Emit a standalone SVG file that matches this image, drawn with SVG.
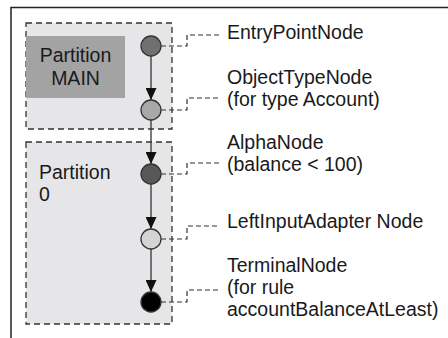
<svg xmlns="http://www.w3.org/2000/svg" width="448" height="338" viewBox="0 0 448 338">
<defs>
<style>
text{font-family:"Liberation Sans",Arial,sans-serif;font-size:19.5px;fill:#1a1a1a}
.part{fill:#e6e6e8;stroke:#333;stroke-width:1.3;stroke-dasharray:6 4}
.node{stroke:#333;stroke-width:1.3}
.flow{stroke:#333;stroke-width:1.3;fill:none}
.lead{stroke:#333;stroke-width:1.2;fill:none;stroke-dasharray:5 3}
</style>
<marker id="ah" viewBox="0 0 12 11" refX="12" refY="5.5" markerWidth="12" markerHeight="11" markerUnits="userSpaceOnUse" orient="auto">
<path d="M0,0 L12,5.5 L0,11 Z" fill="#111"/>
</marker>
</defs>
<rect width="448" height="338" fill="#fff"/>
<path d="M11,338 V7.5 H448" fill="none" stroke="#222" stroke-width="1.5"/>
<g id="partition-main">
<rect class="part" x="26" y="23" width="146" height="106"/>
<rect x="26" y="36" width="99" height="62" fill="#a3a3a3"/>
<text x="75.5" y="62" text-anchor="middle">Partition</text>
<text x="75.5" y="85" text-anchor="middle">MAIN</text>
</g>
<g id="partition-0">
<rect class="part" x="26" y="142" width="146" height="182"/>
<text x="39" y="179">Partition</text>
<text x="39" y="201">0</text>
</g>
<g id="connectors">
<line class="flow" x1="151" y1="56" x2="151" y2="100" marker-end="url(#ah)"/>
<line class="flow" x1="151" y1="120" x2="151" y2="164" marker-end="url(#ah)"/>
<line class="flow" x1="151" y1="184" x2="151" y2="229" marker-end="url(#ah)"/>
<line class="flow" x1="151" y1="249" x2="151" y2="292" marker-end="url(#ah)"/>
<path class="lead" d="M161,46 H187 V35 H220"/>
<path class="lead" d="M161,110 H187 V98 H220"/>
<path class="lead" d="M161,174 H187 V163 H220"/>
<path class="lead" d="M161,239 H187 V226 H220"/>
<path class="lead" d="M161,302 H187 V290 H220"/>
</g>
<g id="entry-point-node">
<circle class="node" cx="151" cy="46" r="10" fill="#707070"/>
<text x="227" y="39">EntryPointNode</text>
</g>
<g id="object-type-node">
<circle class="node" cx="151" cy="110" r="10" fill="#a8a8a8"/>
<text x="227" y="84">ObjectTypeNode</text>
<text x="227" y="106">(for type Account)</text>
</g>
<g id="alpha-node">
<circle class="node" cx="151" cy="174" r="10" fill="#585858"/>
<text x="227" y="149">AlphaNode</text>
<text x="227" y="171">(balance &lt; 100)</text>
</g>
<g id="left-input-adapter-node">
<circle class="node" cx="151" cy="239" r="10" fill="#d4d4d4"/>
<text x="227" y="228">LeftInputAdapter Node</text>
</g>
<g id="terminal-node">
<circle class="node" cx="151" cy="302" r="10" fill="#000"/>
<text x="227" y="272">TerminalNode</text>
<text x="227" y="294">(for rule</text>
<text x="227" y="316">accountBalanceAtLeast)</text>
</g>
</svg>
